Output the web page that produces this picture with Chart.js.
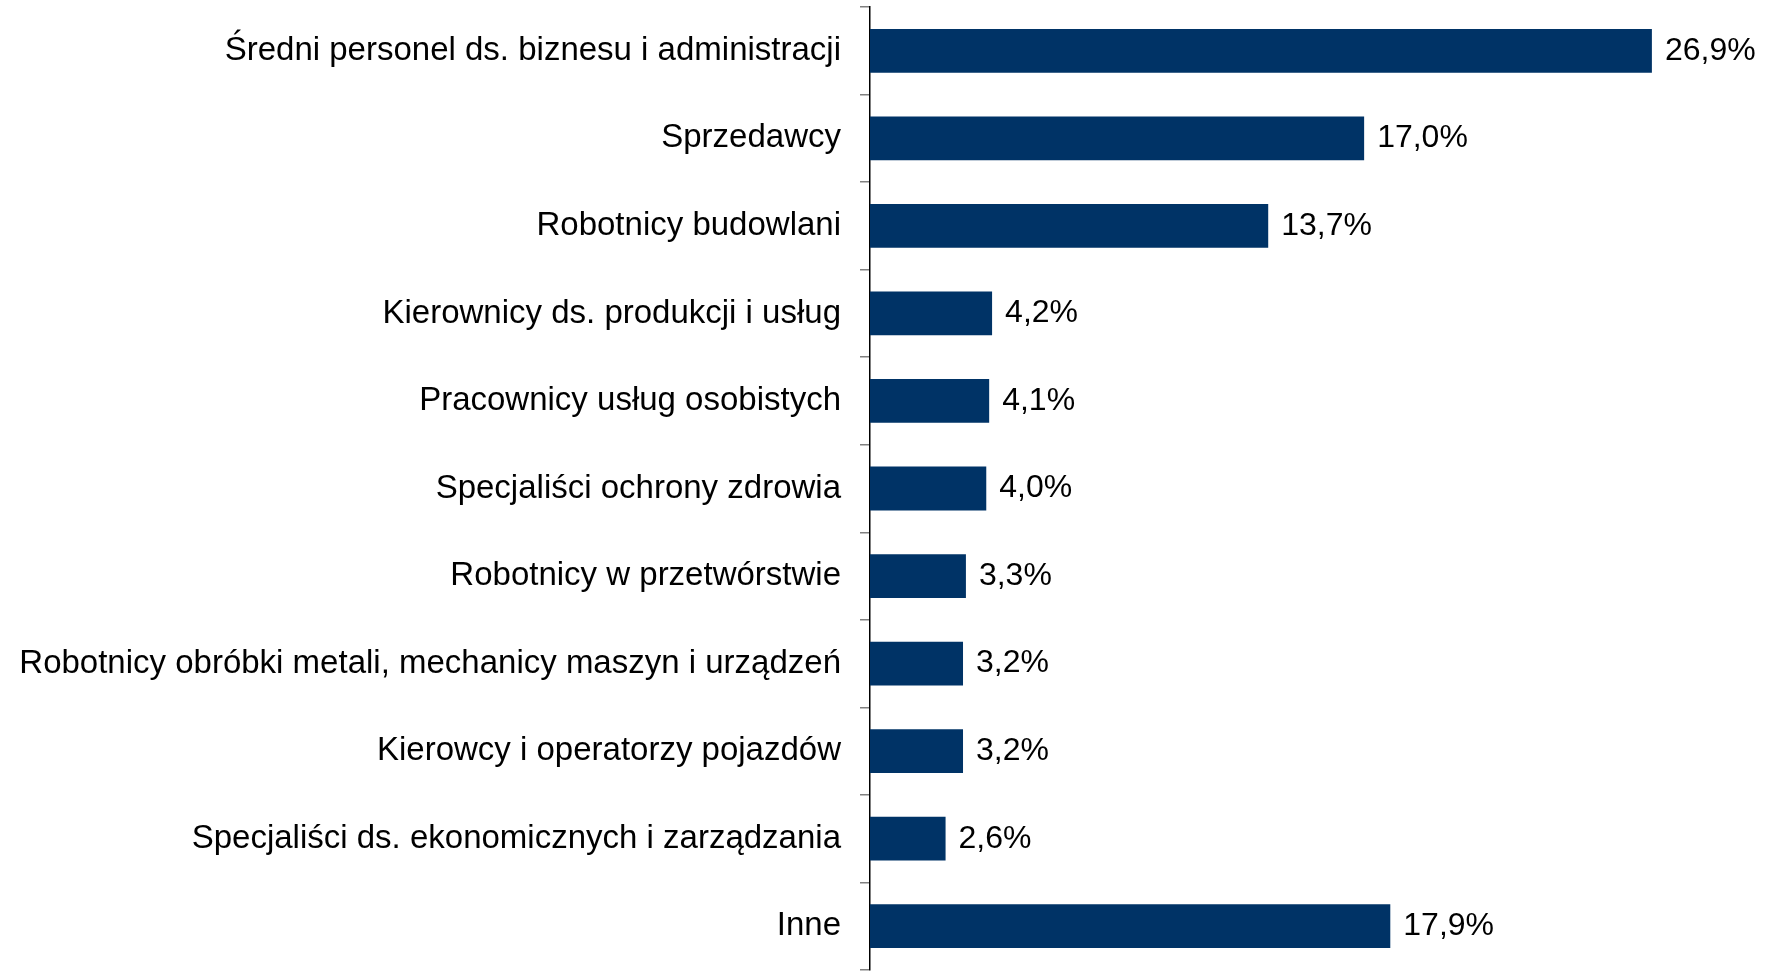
<!DOCTYPE html>
<html>
<head>
<meta charset="utf-8">
<script src="https://cdn.jsdelivr.net/npm/chart.js@4"></script>
<style>
  html, body { margin: 0; padding: 0; background: #fff; }
  #wrap { width: 1775px; height: 971px; }
</style>
</head>
<body>
<div id="wrap"><canvas id="chart"></canvas></div>
<script>
const categories = [
  'Średni personel ds. biznesu i administracji',
  'Sprzedawcy',
  'Robotnicy budowlani',
  'Kierownicy ds. produkcji i usług',
  'Pracownicy usług osobistych',
  'Specjaliści ochrony zdrowia',
  'Robotnicy w przetwórstwie',
  'Robotnicy obróbki metali, mechanicy maszyn i urządzeń',
  'Kierowcy i operatorzy pojazdów',
  'Specjaliści ds. ekonomicznych i zarządzania',
  'Inne'
]
const shares = [26.9, 17.0, 13.7, 4.2, 4.1, 4.0, 3.3, 3.2, 3.2, 2.6, 17.9]

const FONT = 'Liberation Sans, Arial, sans-serif'

const valueLabels = {
  id: 'valueLabels',
  afterDatasetsDraw(chart) {
    const ctx = chart.ctx
    const meta = chart.getDatasetMeta(0)
    ctx.save()
    ctx.font = '32px ' + FONT
    ctx.fillStyle = '#000'
    ctx.textAlign = 'left'
    ctx.textBaseline = 'middle'
    meta.data.forEach((bar, i) => {
      const txt = shares[i].toFixed(1).replace('.', ',') + '%'
      ctx.fillText(txt, bar.x + 13, bar.y)
    })
    ctx.restore()
  }
}

new Chart(document.getElementById('chart'), {
  type: 'bar',
  data: {
    labels: categories,
    datasets: [{
      data: shares,
      backgroundColor: '#003366',
      barPercentage: 0.5,
      categoryPercentage: 1.0
    }]
  },
  options: {
    indexAxis: 'y',
    responsive: true,
    maintainAspectRatio: false,
    animation: false,
    layout: { padding: { top: 7, bottom: 1, left: 0, right: 33 } },
    plugins: { legend: { display: false }, tooltip: { enabled: false } },
    scales: {
      x: { display: false, min: 0, max: 30 },
      y: {
        afterFit(scale) {
          scale.width = 870
          scale.paddingTop = 0
          scale.paddingBottom = 0
        },
        border: { display: true, color: '#000', width: 1.5 },
        grid: { drawOnChartArea: false, drawTicks: true, tickLength: 10, color: '#808080', lineWidth: 1.5 },
        ticks: { color: '#000', padding: 19, font: { family: FONT, size: 33 } }
      }
    }
  },
  plugins: [valueLabels]
})
</script>
</body>
</html>
